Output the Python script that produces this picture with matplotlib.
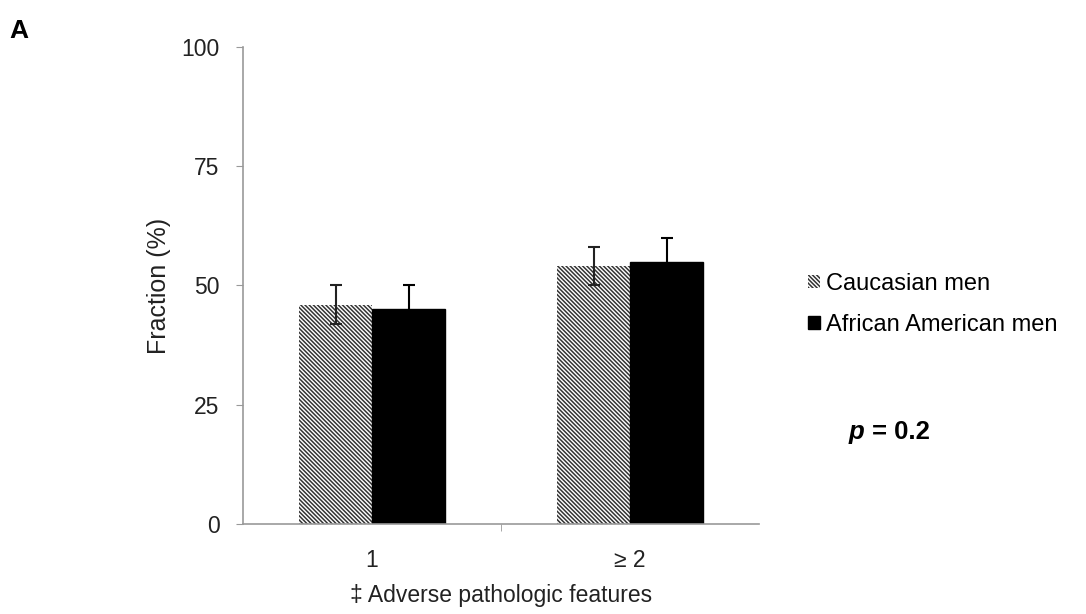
import matplotlib.pyplot as plt
import numpy as np

plt.rcParams['font.family'] = ['Liberation Sans', 'DejaVu Sans']
plt.rcParams['hatch.linewidth'] = 1.1

categories = ['1', '\u2265 2']
caucasian = [46, 54]
caucasian_err = [4, 4]
african = [45, 55]
african_err = [5, 5]

fig = plt.figure(figsize=(10.86, 6.14), dpi=100)
ax = fig.add_axes([0.2238, 0.1466, 0.4752, 0.7769])

x = np.arange(len(categories))
w = 0.283

ax.bar(x - w / 2, caucasian, w, color='white', edgecolor='#333333', hatch='\\' * 8,
       linewidth=0, label='Caucasian men')
ax.bar(x + w / 2, african, w, color='black', edgecolor='black', label='African American men')
ax.errorbar(x - w / 2, caucasian, yerr=caucasian_err, fmt='none', ecolor='#222222',
            elinewidth=1.5, capsize=4.5, capthick=1.5)
ax.errorbar(x + w / 2, african, yerr=african_err, fmt='none', ecolor='black',
            elinewidth=1.5, capsize=4.5, capthick=1.5)

ax.set_xlim(-0.5, 1.5)
ax.set_ylim(0, 100)
ax.set_yticks([0, 25, 50, 75, 100])
ax.set_xticks(x)
ax.set_xticklabels(categories)
ax.set_xticks([0.5], minor=True)
ax.tick_params(axis='x', which='major', length=0, labelsize=16.5, pad=18, labelcolor='#222222')
ax.tick_params(axis='x', which='minor', length=5, color='#999999')
ax.tick_params(axis='y', length=5, color='#999999', labelsize=16.5, pad=12, labelcolor='#222222')

for s in ['top', 'right']:
    ax.spines[s].set_visible(False)
for s in ['left', 'bottom']:
    ax.spines[s].set_color('#999999')
    ax.spines[s].set_linewidth(1.2)

ax.set_ylabel('Fraction (%)', fontsize=18, labelpad=7, color='#222222')
ax.set_xlabel('\u2021 Adverse pathologic features', fontsize=16.5, labelpad=9, color='#222222')

ax.legend(loc='center left', bbox_to_anchor=(1.095, 0.46), frameon=False, fontsize=17,
          handlelength=0.5, handleheight=0.5, handletextpad=0.25, labelspacing=0.8,
          borderaxespad=0, borderpad=0)

fig.text(0.781, 0.2964, 'p', fontsize=18.5, fontweight='bold', fontstyle='italic', va='center')
fig.text(0.803, 0.2964, '= 0.2', fontsize=18.5, fontweight='bold', va='center')
fig.text(0.009, 0.95, 'A', fontsize=19, fontweight='bold', va='center')

fig.savefig('out.png', dpi=100)
